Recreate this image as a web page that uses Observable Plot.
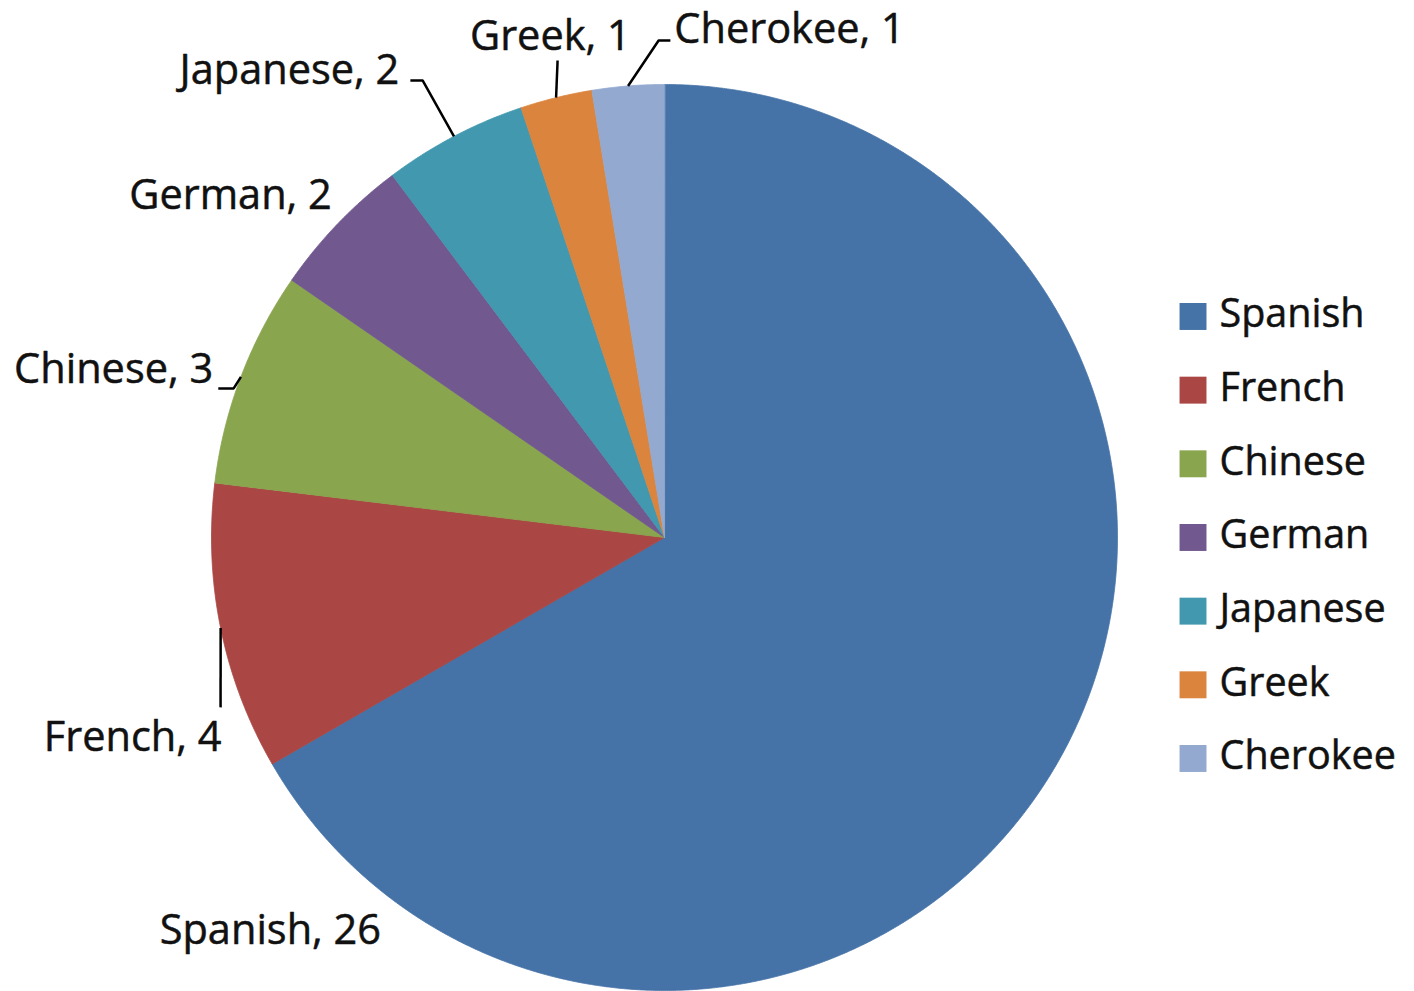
<!DOCTYPE html>
<html><head><meta charset="utf-8">
<script src="https://cdn.jsdelivr.net/npm/d3@7"></script>
<script src="https://cdn.jsdelivr.net/npm/@observablehq/plot@0.6"></script>
<style>html,body{margin:0;padding:0;background:#fff} svg{display:block}</style>
</head><body><div id="chart"></div>
<script>
// ---- data ----
const languages = ["Spanish","French","Chinese","German","Japanese","Greek","Cherokee"];
const counts = [26,4,3,2,2,1,1];
const colors = ["#4572A7","#AA4643","#89A54E","#71588F","#4198AF","#DB843D","#93A9CF"];

// ---- layout (unit-circle coordinates) ----
const labelPos = [[-0.870,-0.868],[-1.174,-0.442],[-1.216,0.371],[-0.958,0.755],[-0.828,1.031],[-0.252,1.106],[0.276,1.120]];
const leaderBends = [null, [[-0.980,-0.375]], [[-0.951,0.329],[-0.985,0.329]], null, [[-0.534,1.009],[-0.561,1.009]], [[-0.236,1.053]], [[-0.013,1.097],[0.013,1.097]]];

const total = d3.sum(counts);
const slices = [];
const leaders = [];
const labels = [];
let cum = 0;
languages.forEach((lang, i) => {
  const a0 = cum / total * 2 * Math.PI;
  cum += counts[i];
  const a1 = cum / total * 2 * Math.PI;
  const n = Math.max(2, Math.ceil((a1 - a0) / (Math.PI / 720)));
  slices.push({lang, x: 0, y: 0});
  for (let k = 0; k <= n; k++) {
    const a = a0 + (a1 - a0) * k / n;
    slices.push({lang, x: Math.sin(a), y: Math.cos(a)});
  }
  const am = (a0 + a1) / 2;
  if (leaderBends[i]) {
    leaders.push({id: lang, x: Math.sin(am), y: Math.cos(am)});
    leaderBends[i].forEach(([x, y]) => leaders.push({id: lang, x, y}));
  }
  labels.push({lang, text: `${lang}, ${counts[i]}`, x: labelPos[i][0], y: labelPos[i][1]});
});
const legend = languages.map((lang, i) => ({lang, i}));

const chart = Plot.plot({
  width: 1414,
  height: 991,
  margin: 0,
  x: {domain: [-1, 1], range: [211, 1117], axis: null},
  y: {domain: [-1, 1], range: [990, 84], axis: null},
  color: {domain: languages, range: colors},
  style: {fontFamily: "'Open Sans', sans-serif", background: "#fff"},
  marks: [
    Plot.line(slices, {x: "x", y: "y", z: "lang", fill: "lang", stroke: "lang", strokeWidth: 0.8, curve: "linear-closed"}),
    Plot.line(leaders, {x: "x", y: "y", z: "id", stroke: "#000", strokeWidth: 2.5, strokeLinejoin: "miter", strokeLinecap: "butt"}),
    Plot.text(labels, {x: "x", y: "y", text: "text", fontSize: 41.5, fill: "#111", stroke: "#111", strokeWidth: 0.5, textAnchor: "middle", lineAnchor: "middle"}),
    Plot.dot(legend, {x: () => 1.1667, y: d => 0.4879 - 0.16262 * d.i, symbol: "square", r: 15.2, fill: "lang", stroke: null}),
    Plot.text(legend, {x: () => 1.2252, y: d => 0.4920 - 0.16262 * d.i, text: "lang", fontSize: 39.5, fill: "#111", stroke: "#111", strokeWidth: 0.5, textAnchor: "start", lineAnchor: "middle"})
  ]
});
document.getElementById("chart").appendChild(chart);
</script>
</body></html>
